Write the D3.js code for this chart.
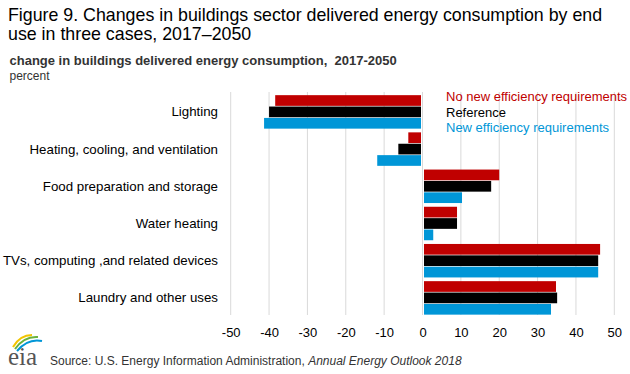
<!DOCTYPE html>
<html><head><meta charset="utf-8">
<script src="https://cdn.jsdelivr.net/npm/d3@7"></script>
<style>body{margin:0;background:#fff}svg{display:block;font-family:"Liberation Sans",Arial,sans-serif}</style>
</head><body><svg id="c" width="630" height="374"></svg>
<script>
const categories = ["Lighting","Heating, cooling, and ventilation","Food preparation and storage","Water heating","TVs, computing ,and related devices","Laundry and other uses"];
const seriesNames = ["No new efficiency requirements","Reference","New efficiency requirements"];
const noNewEfficiency = [-38.4,-3.7,20.0,9.0,46.3,34.8];
const reference = [-40.0,-6.3,17.9,9.0,45.8,35.1];
const newEfficiency = [-41.3,-11.8,10.3,2.8,45.8,33.5];
const xTicks = [-50,-40,-30,-20,-10,0,10,20,30,40,50];
const colors = ["#c00000","#000000","#0096d7"];

const svg = d3.select("#c");
const x = d3.scaleLinear().domain([-50,50]).range([230.7,614.3]);
const y = d3.scaleBand().domain(categories).range([93.3,316.5]).paddingInner(0.1).paddingOuter(0.05);
const sub = d3.scaleBand().domain(seriesNames).range([0,y.bandwidth()]).paddingInner(0.06);

// title
svg.append("text").attr("x",8).attr("y",21).attr("font-size",17.8).attr("fill","#000").text("Figure 9. Changes in buildings sector delivered energy consumption by end");
svg.append("text").attr("x",8).attr("y",40).attr("font-size",17.8).attr("fill","#000").text("use in three cases, 2017\u20132050");
svg.append("text").attr("x",9.5).attr("y",64.5).attr("font-size",13).attr("font-weight","bold").attr("fill","#333").text("change in buildings delivered energy consumption,\u00a0 2017-2050");
svg.append("text").attr("x",9.5).attr("y",80).attr("font-size",12).attr("fill","#333").text("percent");

// grid
svg.append("g").selectAll("line").data(xTicks).join("line")
  .attr("x1",d=>x(d)).attr("x2",d=>x(d)).attr("y1",92).attr("y2",315)
  .attr("stroke","#d9d9d9").attr("stroke-width",1);

// bars
const series = [noNewEfficiency, reference, newEfficiency];
series.forEach((vals,si)=>{
  svg.append("g").selectAll("rect").data(vals).join("rect")
    .attr("x",d=> d<0 ? x(d) : x(0)+1.5)
    .attr("width",d=> Math.abs(x(d)-x(0)) - 1.5)
    .attr("y",(d,i)=>y(categories[i])+sub(seriesNames[si]))
    .attr("height",sub.bandwidth())
    .attr("fill",colors[si]);
});

// category labels
svg.append("g").selectAll("text").data(categories).join("text")
  .attr("x",218).attr("y",d=>y(d)+y.bandwidth()/2+4.5)
  .attr("text-anchor","end").attr("font-size",13.3).attr("fill","#000").text(d=>d);

// x axis
const xAxis = d3.axisBottom(x).tickValues(xTicks).tickSize(0).tickPadding(0).tickFormat(d=>String(d));
const ax = svg.append("g").attr("transform","translate(0,327.5)").call(xAxis);
ax.select(".domain").remove();
ax.selectAll("text").attr("font-size",13).attr("fill","#000").attr("dy","0.71em").style("font-family","'Liberation Sans',Arial,sans-serif");

// legend
svg.append("g").selectAll("text").data(seriesNames).join("text")
  .attr("x",446).attr("y",(d,i)=>101+i*15.5).attr("font-size",13).attr("fill",(d,i)=>colors[i]).text(d=>d);

// footer source
const src = svg.append("text").attr("x",50).attr("y",365).attr("font-size",12).attr("fill","#333");
src.append("tspan").text("Source: U.S. Energy Information Administration, ");
src.append("tspan").attr("font-style","italic").text("Annual Energy Outlook 2018");

// eia logo
const logo = svg.append("g");
logo.append("path").attr("d","M13,347 Q20,335 32,335").attr("fill","none").attr("stroke","#f2c500").attr("stroke-width",2);
logo.append("path").attr("d","M15,349 Q24,336 38,337").attr("fill","none").attr("stroke","#6ab23e").attr("stroke-width",2);
logo.append("path").attr("d","M17,351 Q28,338 42,341").attr("fill","none").attr("stroke","#0096d7").attr("stroke-width",2);
logo.append("text").attr("x",8).attr("y",365).attr("font-family","'Liberation Serif','DejaVu Serif',serif").attr("font-size",25).attr("fill","#555").text("eia");
</script></body></html>
